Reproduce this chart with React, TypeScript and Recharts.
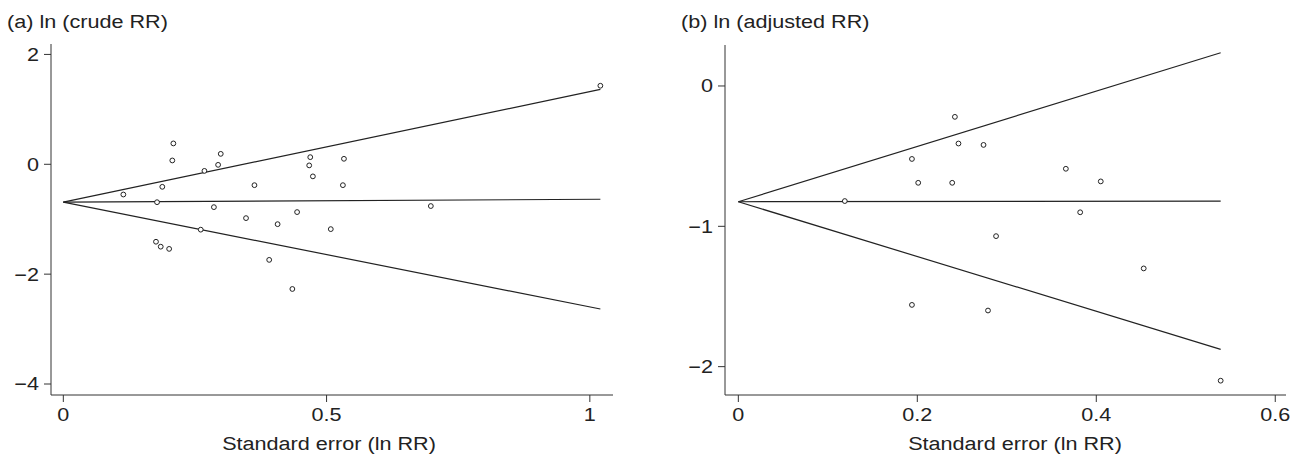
import React from 'react';
import { ScatterChart, Scatter, XAxis, YAxis } from 'recharts';

// Panel (a): crude RR, standard error vs ln RR
const crudeSE = [
  0.114, 0.178, 0.188, 0.207, 0.209, 0.176, 0.185, 0.201, 0.261, 0.268, 0.286, 0.294, 0.299, 0.347,
  0.363, 0.391, 0.407, 0.435, 0.444, 0.469, 0.467, 0.474, 0.508, 0.531, 0.533, 0.698, 1.02,
];
const crudeLnRR = [
  -0.55, -0.69, -0.41, 0.07, 0.38, -1.41, -1.5, -1.54, -1.19, -0.12, -0.78, -0.01, 0.19, -0.98,
  -0.38, -1.74, -1.09, -2.27, -0.87, 0.13, -0.02, -0.22, -1.18, -0.38, 0.1, -0.76, 1.43,
];

// Panel (b): adjusted RR
const adjSE = [0.119, 0.194, 0.201, 0.242, 0.246, 0.239, 0.274, 0.194, 0.279, 0.288, 0.366, 0.382, 0.405, 0.453, 0.539];
const adjLnRR = [-0.82, -0.52, -0.69, -0.22, -0.41, -0.69, -0.42, -1.56, -1.6, -1.07, -0.59, -0.9, -0.68, -1.3, -2.1];

// funnel lines (pooled estimate and 95% limits), end points
const funnelSeA = [0, 1.02];
const centerA = [-0.69, -0.636];
const upperA = [-0.69, 1.363];
const lowerA = [-0.69, -2.635];

const funnelSeB = [0, 0.539];
const centerB = [-0.825, -0.82];
const upperB = [-0.825, 0.237];
const lowerB = [-0.825, -1.877];

const ticksA_x = [0, 0.5, 1];
const ticksA_y = [-4, -2, 0, 2];
const ticksB_x = [0, 0.2, 0.4, 0.6];
const ticksB_y = [-2, -1, 0];

const toPts = (xs: number[], ys: number[]) => xs.map((se, i) => ({ se, y: ys[i] }));

const INK = '#222';
const FONT = '"Liberation Sans", Arial, Helvetica, sans-serif';
const STRETCH = 1.2; // the original type is widened horizontally

const fmt = (v: number) => String(v).replace('-', '\u2212');

const Dot = (props: any) => (
  <circle cx={props.cx} cy={props.cy} r={2.4} fill="#fff" stroke={INK} strokeWidth={1} />
);
const NoDot = () => <g />;

// wide tick labels
const XTick = (props: any) => (
  <g transform={`translate(${props.x},${props.y})`}>
    <text transform={`scale(${STRETCH},1)`} textAnchor="middle" dy="0.71em" fill={INK} fontSize={18} fontFamily={FONT}>
      {fmt(props.payload.value)}
    </text>
  </g>
);
const YTick = (props: any) => (
  <g transform={`translate(${props.x},${props.y})`}>
    <text transform={`scale(${STRETCH},1)`} textAnchor="end" dy="0.355em" fill={INK} fontSize={18} fontFamily={FONT}>
      {fmt(props.payload.value)}
    </text>
  </g>
);

interface PanelProps {
  width: number;
  yAxisWidth: number;
  marginRight: number;
  marginTop: number;
  xDomain: [number, number];
  yDomain: [number, number];
  xTicks: number[];
  yTicks: number[];
  points: { se: number; y: number }[];
  lines: { se: number; y: number }[][];
}

const Panel: React.FC<PanelProps> = (p) => (
  <ScatterChart
    width={p.width}
    height={461}
    margin={{ top: p.marginTop, right: p.marginRight, bottom: 0, left: 0 }}
  >
    <XAxis
      type="number"
      dataKey="se"
      domain={p.xDomain}
      ticks={p.xTicks}
      allowDataOverflow
      tick={XTick}
      tickSize={7}
      tickMargin={6}
      height={66}
      stroke="#333"
    />
    <YAxis
      type="number"
      dataKey="y"
      domain={p.yDomain}
      ticks={p.yTicks}
      allowDataOverflow
      tick={YTick}
      tickSize={7}
      tickMargin={5}
      width={p.yAxisWidth}
      stroke="#333"
    />
    {p.lines.map((l, i) => (
      <Scatter
        key={i}
        data={l}
        line={{ stroke: INK, strokeWidth: 1.2 }}
        shape={NoDot}
        legendType="none"
        isAnimationActive={false}
      />
    ))}
    <Scatter data={p.points} shape={Dot} isAnimationActive={false} />
  </ScatterChart>
);

const textStyle: React.CSSProperties = {
  position: 'absolute',
  fontFamily: FONT,
  fontSize: 18,
  lineHeight: '18px',
  color: INK,
  whiteSpace: 'nowrap',
};
const titleStyle: React.CSSProperties = {
  ...textStyle,
  top: 13,
  transform: `scaleX(${STRETCH})`,
  transformOrigin: 'left center',
};
const xTitleStyle: React.CSSProperties = {
  ...textStyle,
  top: 435,
  transform: `translateX(-50%) scaleX(${STRETCH})`,
  transformOrigin: 'center center',
};

export default function App() {
  return (
    <div style={{ position: 'fixed', left: 0, top: 0, width: 1298, height: 461, background: '#fff' }}>
      <div style={{ position: 'absolute', left: 0, top: 0 }}>
        <Panel
          width={650}
          yAxisWidth={51}
          marginRight={37}
          marginTop={44}
          xDomain={[-0.0234, 1.044]}
          yDomain={[-4.2, 2.19]}
          xTicks={ticksA_x}
          yTicks={ticksA_y}
          points={toPts(crudeSE, crudeLnRR)}
          lines={[toPts(funnelSeA, centerA), toPts(funnelSeA, upperA), toPts(funnelSeA, lowerA)]}
        />
      </div>
      <div style={{ position: 'absolute', left: 650, top: 0 }}>
        <Panel
          width={648}
          yAxisWidth={75}
          marginRight={12}
          marginTop={45}
          xDomain={[-0.0149, 0.612]}
          yDomain={[-2.202, 0.292]}
          xTicks={ticksB_x}
          yTicks={ticksB_y}
          points={toPts(adjSE, adjLnRR)}
          lines={[toPts(funnelSeB, centerB), toPts(funnelSeB, upperB), toPts(funnelSeB, lowerB)]}
        />
      </div>
      <div style={{ ...titleStyle, left: 7 }}>(a) ln (crude RR)</div>
      <div style={{ ...titleStyle, left: 681 }}>(b) ln (adjusted RR)</div>
      <div style={{ ...xTitleStyle, left: 329 }}>Standard error (ln RR)</div>
      <div style={{ ...xTitleStyle, left: 1015 }}>Standard error (ln RR)</div>
    </div>
  );
}
